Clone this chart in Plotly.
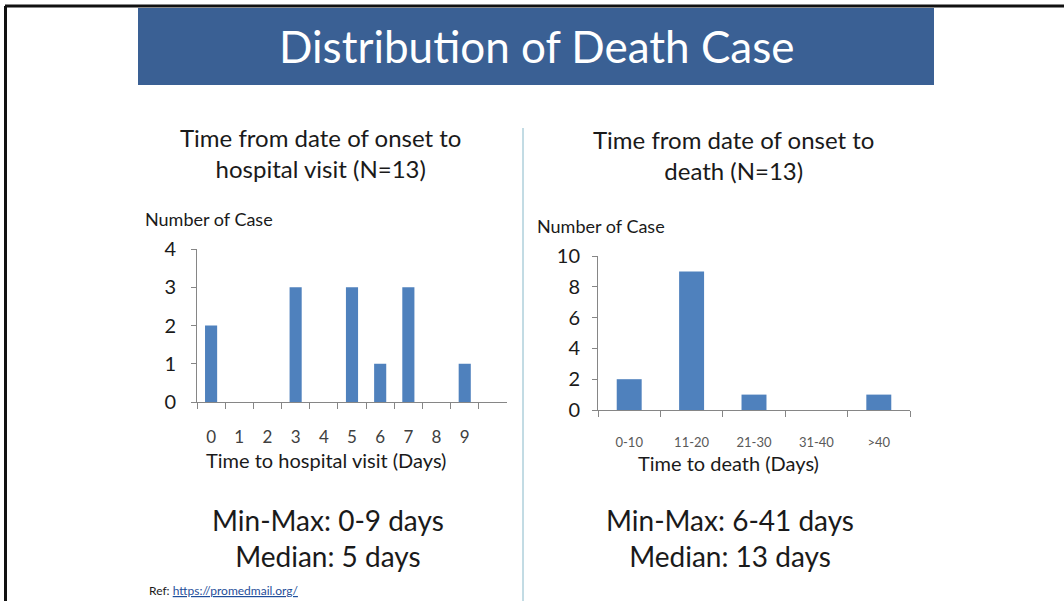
import plotly.graph_objects as go

# ---- data ----
hosp_days = [0, 1, 2, 3, 4, 5, 6, 7, 8, 9]
hosp_cases = [2, 0, 0, 3, 0, 3, 1, 3, 0, 1]
death_bins = ["0-10", "11-20", "21-30", "31-40", ">40"]
death_cases = [2, 9, 1, 0, 1]

W, H = 1064, 601
FONT = "Lato"
BAR = "#4f81bd"
AX = "#868686"
TXT = "#1a1a1a"

def px(x):
    return x / W

def py(y):
    return 1 - y / H

fig = go.Figure()
fig.add_trace(go.Bar(x=[str(d) for d in hosp_days], y=hosp_cases, marker_color=BAR,
                     width=0.43, xaxis="x", yaxis="y", hoverinfo="x+y"))
fig.add_trace(go.Bar(x=death_bins, y=death_cases, marker_color=BAR,
                     width=0.4, xaxis="x2", yaxis="y2", hoverinfo="x+y"))

common_x = dict(type="category", showline=True, linecolor=AX, linewidth=1,
                ticks="outside", tickson="boundaries", ticklen=6, tickcolor=AX,
                showgrid=False, zeroline=False, fixedrange=True, automargin=False)
common_y = dict(showline=True, linecolor=AX, linewidth=1, ticks="outside",
                ticklen=5, tickcolor=AX, showgrid=False, zeroline=False,
                fixedrange=True, tickfont=dict(family=FONT, size=20, color=TXT),
                automargin=False)

fig.update_layout(
    template=None, autosize=False,
    width=W, height=H, margin=dict(l=0, r=0, t=0, b=0, pad=0),
    paper_bgcolor="white", plot_bgcolor="white", showlegend=False,
    font=dict(family=FONT, color=TXT),
    xaxis=dict(domain=[px(197), px(507)], anchor="y", range=[-0.5, 10.5],
               tickfont=dict(family=FONT, size=17, color="#404040"),
               ticklabelstandoff=20, **common_x),
    yaxis=dict(domain=[py(402), py(249)], anchor="x", range=[0, 4], dtick=1,
               ticklabelstandoff=11, **common_y),
    xaxis2=dict(domain=[px(598), px(910)], anchor="y2", range=[-0.5, 4.5],
                tickfont=dict(family=FONT, size=13, color="#595959"),
                ticklabelstandoff=20, **common_x),
    yaxis2=dict(domain=[py(410), py(256)], anchor="x2", range=[0, 10], dtick=2,
                ticklabelstandoff=8, **common_y),
)

shapes = [
    # banner
    dict(type="rect", xref="paper", yref="paper", x0=px(138), x1=px(934),
         y0=py(85), y1=py(8), fillcolor="#3a6094", line_width=0, layer="below"),
    # page border (top, left)
    dict(type="line", xref="paper", yref="paper", x0=px(5), x1=1, y0=py(6), y1=py(6),
         line=dict(color="#111111", width=3)),
    dict(type="line", xref="paper", yref="paper", x0=px(5.5), x1=px(5.5), y0=py(6), y1=0,
         line=dict(color="#111111", width=3)),
    # divider
    dict(type="line", xref="paper", yref="paper", x0=px(523), x1=px(523), y0=py(128), y1=0,
         line=dict(color="#86b8c9", width=1)),
]
fig.update_layout(shapes=shapes)

def ann(text, x, y, size, color=TXT, xanchor="center", **kw):
    fig.add_annotation(text=text, xref="paper", yref="paper", x=px(x), y=py(y),
                       xanchor=xanchor, yanchor="middle", showarrow=False,
                       align="center", font=dict(family=FONT, size=size, color=color), **kw)

ann("Distribution of Death Case", 536, 46, 44, color="white")
ann("Time from date of onset to<br>hospital visit (N=13)", 320, 153, 24)
ann("Time from date of onset to<br>death (N=13)", 733, 155, 24)
ann("Number of Case", 143, 219, 18, xanchor="left")
ann("Number of Case", 535, 226, 18, xanchor="left")
ann("Time to hospital visit (Days)", 326, 460, 20)
ann("Time to death (Days)", 728, 463, 20)
ann("Min-Max: 0-9 days<br>Median: 5 days", 328, 538, 28)
ann("Min-Max: 6-41 days<br>Median: 13 days", 730, 538, 28)
ann("Ref: <a href='https://promedmail.org/' style='color:#1f4e9a'><u>https://promedmail.org/</u></a>",
    147, 590, 12, xanchor="left")

post = ("document.documentElement.style.margin='0';document.body.style.margin='0';"
        "document.body.style.overflow='hidden';"
        "var d=document.getElementById('{plot_id}');d.style.position='absolute';"
        "d.style.left='0px';d.style.top='0px';")
fig.write_html("out.html", post_script=post, config={"displayModeBar": False})
